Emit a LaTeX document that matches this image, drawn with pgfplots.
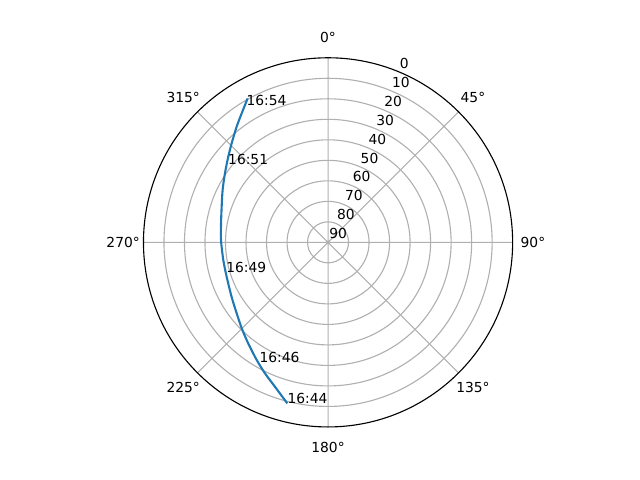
\documentclass[border=0pt]{standalone}
\usepackage{fontspec}
\setmainfont{DejaVu Sans}
\usepackage{pgfplots}
\usepackage{pgfplotstable}
\usepgfplotslibrary{polar}
\pgfplotsset{compat=1.18}

\definecolor{track}{HTML}{1F77B4}
\definecolor{gridgray}{HTML}{B0B0B0}

% satellite pass: azimuth (deg, clockwise from north), elevation (deg)
\pgfplotstableread{
az    el
194.2  9.0
200.2 15.0
205.7 19.1
211.2 22.9
218.3 27.2
225.1 30.6
232.2 33.6
240.6 36.0
251.3 37.8
260.4 38.2
271.2 37.8
280.1 37.0
288.5 35.3
296.4 32.6
303.8 29.5
310.6 25.9
315.8 22.6
321.7 18.1
326.2 14.3
330.8  9.6
}\pass

\pgfplotstableread{
az    el   t
194.2  9.0 16:44
209.8 22.6 16:46
253.4 38.1 16:49
307.7 28.3 16:51
329.1 12.4 16:54
}\times

\begin{document}
\begin{tikzpicture}[font=\fontsize{10}{12}\selectfont]
\useasboundingbox (0,0) rectangle (460.8bp,345.6bp);
\begin{polaraxis}[
    at={(236.2bp,171.1bp)}, anchor=center,
    scale only axis, width=265.8bp, height=265.8bp,
    xmin=0, xmax=360, ymin=0, ymax=90,
    xtick={0,45,...,315}, ytick={10,20,...,80},
    xticklabels={}, yticklabels={},
    grid=major,
    major grid style={draw=gridgray, line width=0.8bp},
    separate axis lines,
    x axis line style={line width=0.8bp},
    y axis line style={draw=none},
    major tick length=0pt,
    clip=false,
]
% angle = 90 - azimuth (north up, clockwise), radius = 90 - elevation
\addplot[track, line width=1.5bp, smooth, tension=0.5]
    table[x expr=450-\thisrow{az}, y expr=90-\thisrow{el}] {\pass};
\addplot[draw=none, nodes near coords, point meta=explicit symbolic,
    nodes near coords style={anchor=base west, inner sep=0pt, text=black}]
    table[x expr=450-\thisrow{az}, y expr=90-\thisrow{el}, meta=t] {\times};

% azimuth labels
\node[anchor=center] at (axis cs:90,99.9) {0°};
\node[anchor=center] at (axis cs:45,99.9) {45°};
\node[anchor=center] at (axis cs:0,99.9) {90°};
\node[anchor=center] at (axis cs:315,99.9) {135°};
\node[anchor=center] at (axis cs:270,99.9) {180°};
\node[anchor=center] at (axis cs:225,99.9) {225°};
\node[anchor=center] at (axis cs:180,99.9) {270°};
\node[anchor=center] at (axis cs:135,99.9) {315°};

% elevation labels
\foreach \e in {0,10,...,90} {
    \pgfmathtruncatemacro{\r}{90-\e}
    \edef\temp{\noexpand\node[anchor=south west, inner sep=0pt, xshift=0.72bp, yshift=2.2bp]
        at (axis cs:67.5,\r) {\e};}
    \temp
}
\end{polaraxis}
\end{tikzpicture}
\end{document}
